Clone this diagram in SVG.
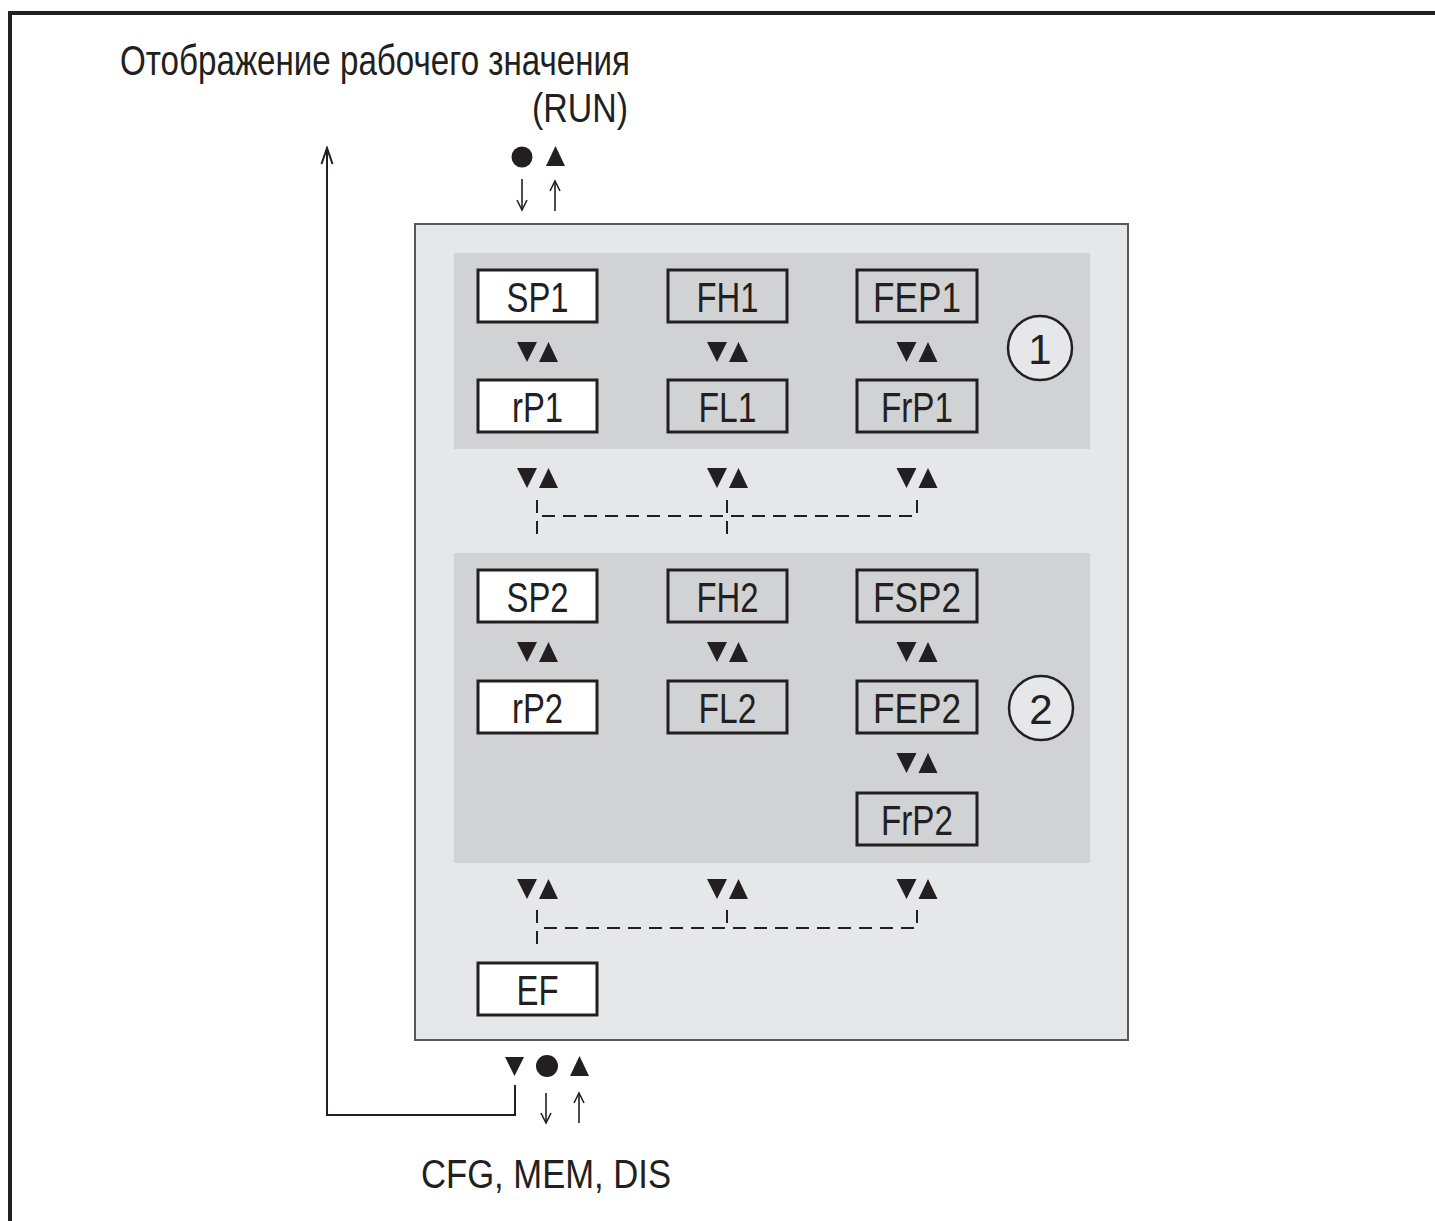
<svg xmlns="http://www.w3.org/2000/svg" xmlns:xlink="http://www.w3.org/1999/xlink" width="1435" height="1221" viewBox="0 0 1435 1221">
<style>
text{font-family:"Liberation Sans",Arial,sans-serif;fill:#231f20}
.lbl{font-size:42px;text-anchor:middle}
.big{font-size:42px}
.box{stroke:#231f20;stroke-width:3}
.w{fill:#ffffff}
.g{fill:#d1d2d4}
.dash{fill:none;stroke:#231f20;stroke-width:2;stroke-dasharray:13 8}
.ln{fill:none;stroke:#231f20;stroke-width:2}
.thin{fill:none;stroke:#231f20;stroke-width:1.6}
</style>
<defs>
<g id="ud">
<polygon points="-20.5,0 -0.5,0 -10.5,20" fill="#231f20"/>
<polygon points="1.5,20 20.5,20 11,0" fill="#231f20"/>
</g>
<marker id="hs" viewBox="-12 -7 14 14" markerWidth="14" markerHeight="14" refX="0" refY="0" orient="auto" markerUnits="userSpaceOnUse">
<path d="M-10,-5 L0,0 L-10,5" fill="none" stroke="#231f20" stroke-width="1.6"/>
</marker>
<marker id="hl" viewBox="-18 -7 20 14" markerWidth="20" markerHeight="14" refX="0" refY="0" orient="auto" markerUnits="userSpaceOnUse">
<path d="M-16,-5.5 L0,0 L-16,5.5" fill="none" stroke="#231f20" stroke-width="2"/>
</marker>
</defs>

<g id="frame">
<path d="M10,1221 L10,13 L1435,13" fill="none" stroke="#231f20" stroke-width="4"/>
</g>

<g id="title">
<text class="big" x="120" y="75" textLength="510" lengthAdjust="spacingAndGlyphs">Отображение рабочего значения</text>
<text x="532" y="122" style="font-size:40px" textLength="96" lengthAdjust="spacingAndGlyphs">(RUN)</text>
</g>

<g id="container">
<rect x="415" y="224" width="713" height="816" fill="#e6e7e8" stroke="#58595b" stroke-width="2"/>
<rect x="454" y="253" width="636" height="196" fill="#d1d2d4"/>
<rect x="454" y="553" width="636" height="310" fill="#d1d2d4"/>
</g>

<g id="top-keys">
<circle cx="522" cy="157" r="10.5" fill="#231f20"/>
<polygon points="546,166 565,166 555.5,146" fill="#231f20"/>
</g>

<g id="bottom-keys">
<polygon points="505,1057 524,1057 514.5,1076" fill="#231f20"/>
<circle cx="547" cy="1066" r="11" fill="#231f20"/>
<polygon points="570,1076 589,1076 579.5,1056" fill="#231f20"/>
</g>

<g id="connectors">
<line class="thin" x1="522" y1="179" x2="522" y2="210" marker-end="url(#hs)"/>
<line class="thin" x1="555" y1="211" x2="555" y2="181" marker-end="url(#hs)"/>
<line class="thin" x1="546" y1="1093" x2="546" y2="1123" marker-end="url(#hs)"/>
<line class="thin" x1="579" y1="1123" x2="579" y2="1093" marker-end="url(#hs)"/>
<path class="ln" d="M515,1085 L515,1115 L327,1115 L327,148" marker-end="url(#hl)"/>
<use xlink:href="#ud" href="#ud" x="537.5" y="342"/>
<use xlink:href="#ud" href="#ud" x="727.5" y="342"/>
<use xlink:href="#ud" href="#ud" x="917" y="342"/>
<use xlink:href="#ud" href="#ud" x="537.5" y="468"/>
<use xlink:href="#ud" href="#ud" x="727.5" y="468"/>
<use xlink:href="#ud" href="#ud" x="917" y="468"/>
<use xlink:href="#ud" href="#ud" x="537.5" y="642"/>
<use xlink:href="#ud" href="#ud" x="727.5" y="642"/>
<use xlink:href="#ud" href="#ud" x="917" y="642"/>
<use xlink:href="#ud" href="#ud" x="917" y="753"/>
<use xlink:href="#ud" href="#ud" x="537.5" y="879"/>
<use xlink:href="#ud" href="#ud" x="727.5" y="879"/>
<use xlink:href="#ud" href="#ud" x="917" y="879"/>
<path class="dash" d="M537,500 L537,540"/>
<path class="dash" d="M727,500 L727,540"/>
<path class="dash" d="M917,500 L917,516 L537,516"/>
<path class="dash" d="M537,910 L537,950"/>
<path class="dash" d="M727,910 L727,928"/>
<path class="dash" d="M917,910 L917,928 L537,928"/>
</g>

<g id="SP1"><rect class="box w" x="478" y="270" width="119" height="52"/><text class="lbl" x="537.5" y="312" textLength="62" lengthAdjust="spacingAndGlyphs">SP1</text></g>
<g id="FH1"><rect class="box g" x="668" y="270" width="119" height="52"/><text class="lbl" x="727.5" y="312" textLength="62" lengthAdjust="spacingAndGlyphs">FH1</text></g>
<g id="FEP1"><rect class="box g" x="857" y="270" width="120" height="52"/><text class="lbl" x="917" y="312" textLength="88" lengthAdjust="spacingAndGlyphs">FEP1</text></g>
<g id="rP1"><rect class="box w" x="478" y="380" width="119" height="52"/><text class="lbl" x="537.5" y="422" textLength="51" lengthAdjust="spacingAndGlyphs">rP1</text></g>
<g id="FL1"><rect class="box g" x="668" y="380" width="119" height="52"/><text class="lbl" x="727.5" y="422" textLength="58" lengthAdjust="spacingAndGlyphs">FL1</text></g>
<g id="FrP1"><rect class="box g" x="857" y="380" width="120" height="52"/><text class="lbl" x="917" y="422" textLength="72" lengthAdjust="spacingAndGlyphs">FrP1</text></g>
<g id="group1"><circle cx="1040" cy="348" r="32" fill="#e6e7e8" stroke="#231f20" stroke-width="2.5"/><text class="lbl" x="1040" y="364">1</text></g>

<g id="SP2"><rect class="box w" x="478" y="570" width="119" height="52"/><text class="lbl" x="537.5" y="612" textLength="62" lengthAdjust="spacingAndGlyphs">SP2</text></g>
<g id="FH2"><rect class="box g" x="668" y="570" width="119" height="52"/><text class="lbl" x="727.5" y="612" textLength="62" lengthAdjust="spacingAndGlyphs">FH2</text></g>
<g id="FSP2"><rect class="box g" x="857" y="570" width="120" height="52"/><text class="lbl" x="917" y="612" textLength="88" lengthAdjust="spacingAndGlyphs">FSP2</text></g>
<g id="rP2"><rect class="box w" x="478" y="681" width="119" height="52"/><text class="lbl" x="537.5" y="723" textLength="51" lengthAdjust="spacingAndGlyphs">rP2</text></g>
<g id="FL2"><rect class="box g" x="668" y="681" width="119" height="52"/><text class="lbl" x="727.5" y="723" textLength="58" lengthAdjust="spacingAndGlyphs">FL2</text></g>
<g id="FEP2"><rect class="box g" x="857" y="681" width="120" height="52"/><text class="lbl" x="917" y="723" textLength="88" lengthAdjust="spacingAndGlyphs">FEP2</text></g>
<g id="FrP2"><rect class="box g" x="857" y="793" width="120" height="52"/><text class="lbl" x="917" y="835" textLength="72" lengthAdjust="spacingAndGlyphs">FrP2</text></g>
<g id="group2"><circle cx="1041" cy="708" r="32" fill="#e6e7e8" stroke="#231f20" stroke-width="2.5"/><text class="lbl" x="1041" y="724">2</text></g>

<g id="EF"><rect class="box w" x="478" y="963" width="119" height="52"/><text class="lbl" x="537.5" y="1005" textLength="42" lengthAdjust="spacingAndGlyphs">EF</text></g>

<g id="footer">
<text x="421" y="1188" style="font-size:40px" textLength="250" lengthAdjust="spacingAndGlyphs">CFG, MEM, DIS</text>
</g>
</svg>
